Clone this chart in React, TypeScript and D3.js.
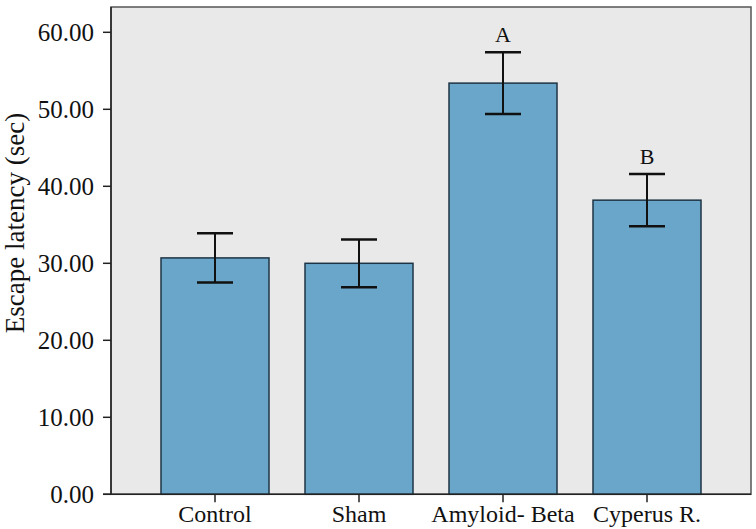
import React from "react";
import * as d3 from "d3";

const categories = ["Control", "Sham", "Amyloid- Beta", "Cyperus R."];
const means = [30.7, 30.0, 53.4, 38.2];
const errors = [3.2, 3.1, 4.0, 3.4];
const letters = ["", "", "A", "B"];
const yTicks = [0, 10, 20, 30, 40, 50, 60];

export default function App() {
  const W = 756, H = 529;
  const left = 111, right = 751, top = 7, bottom = 494.3;
  const y = d3.scaleLinear().domain([0, 60]).range([bottom, bottom - 462]);
  const x = d3.scaleBand<string>().domain(categories).range([143, 719]).paddingInner(0.25).paddingOuter(0.125);
  const font = "'Liberation Serif', 'DejaVu Serif', serif";
  const capW = 18;
  return (
    <svg width={W} height={H} style={{ position: "absolute", left: 0, top: 0 }}>
      <rect x={0} y={0} width={W} height={H} fill="#fff" />
      <rect x={left} y={top} width={right - left} height={bottom - top} fill="#e9e9e9" stroke="#555" strokeWidth={1.5} />
      {categories.map((c, i) => {
        const bx = x(c)!;
        const cx = bx + x.bandwidth() / 2;
        const yt = y(means[i]);
        const yu = y(means[i] + errors[i]);
        const yl = y(means[i] - errors[i]);
        return (
          <g key={c}>
            <rect x={bx} y={yt} width={x.bandwidth()} height={bottom - yt} fill="#6aa6c9" stroke="#1e3444" strokeWidth={1.5} />
            <line x1={cx} x2={cx} y1={yu} y2={yl} stroke="#111" strokeWidth={2} />
            <line x1={cx - capW} x2={cx + capW} y1={yu} y2={yu} stroke="#111" strokeWidth={2.5} />
            <line x1={cx - capW} x2={cx + capW} y1={yl} y2={yl} stroke="#111" strokeWidth={2.5} />
            {letters[i] && (
              <text x={cx} y={yu - 10} textAnchor="middle" fontFamily={font} fontSize={22} fill="#111">{letters[i]}</text>
            )}
            <line x1={cx} x2={cx} y1={bottom} y2={bottom + 8} stroke="#222" strokeWidth={1.5} />
            <text x={cx} y={522} textAnchor="middle" fontFamily={font} fontSize={24} fill="#111">{c}</text>
          </g>
        );
      })}
      <line x1={left} x2={left} y1={top} y2={bottom} stroke="#222" strokeWidth={1.5} />
      <line x1={103} x2={right} y1={bottom} y2={bottom} stroke="#222" strokeWidth={1.5} />
      {yTicks.map((t) => (
        <g key={t}>
          <line x1={103} x2={left} y1={y(t)} y2={y(t)} stroke="#222" strokeWidth={1.5} />
          <text x={94} y={y(t)} dy="0.35em" textAnchor="end" fontFamily={font} fontSize={25} fill="#111">{t.toFixed(2)}</text>
        </g>
      ))}
      <text transform={`translate(24, 223) rotate(-90)`} textAnchor="middle" fontFamily={font} fontSize={27} fill="#111">Escape latency (sec)</text>
    </svg>
  );
}
